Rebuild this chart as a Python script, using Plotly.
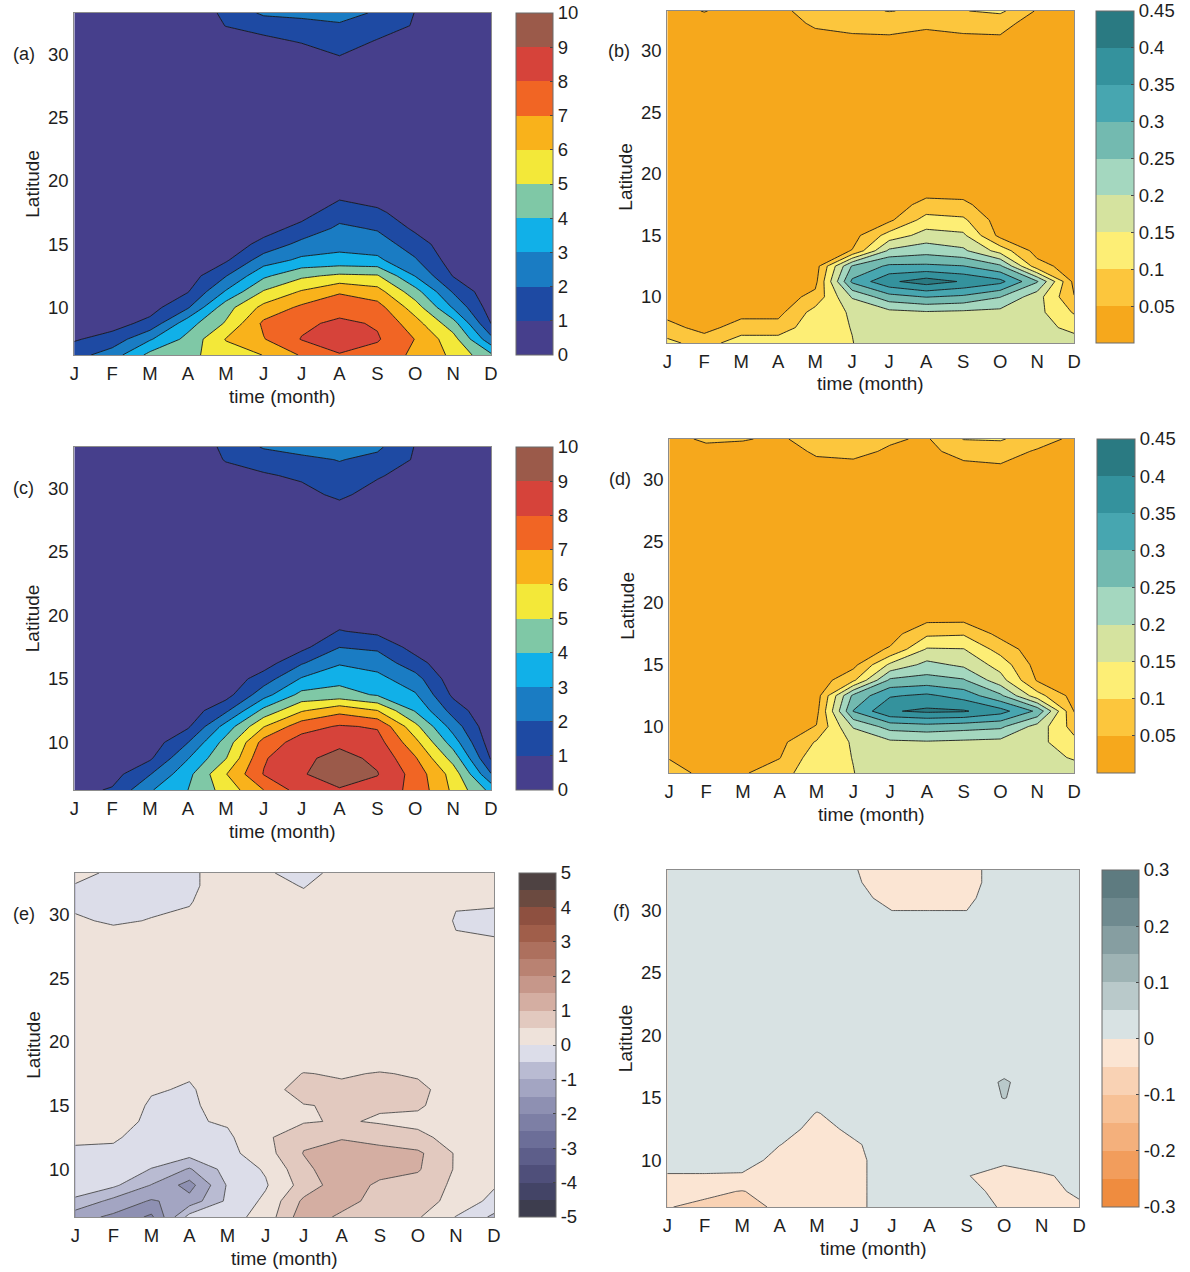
import plotly.graph_objects as go

W, H = 1190, 1272

# ---------------- data ----------------
months = [1, 2, 3, 4, 5, 6, 7, 8, 9, 10, 11, 12]
month_labels = ["J", "F", "M", "A", "M", "J", "J", "A", "S", "O", "N", "D"]
lats = [6.25, 7.5, 8.75, 10, 11.25, 12.5, 13.75, 15, 16.25, 17.5, 18.75, 20, 25, 28, 29.5, 31, 32.25, 33.25]
lat_ticks = [10, 15, 20, 25, 30]

# (a) rows = lats, cols = months
z_a = [
    [1.6, 2.5, 4.3, 4.7, 5.6, 6.02, 7.1, 7.9, 7.6, 6.8, 5.8, 4.2],
    [0.9, 1.4, 2.9, 4.3, 6.05, 6.95, 8.05, 8.8, 8.1, 6.97, 5.4, 2.3],
    [0.5, 0.6, 1.3, 3.6, 5.1, 7.2, 7.8, 8.2, 7.9, 6.4, 4.4, 0.98],
    [0.3, 0.4, 0.6, 1.9, 4.6, 6.3, 7.2, 7.6, 7.4, 5.5, 2.9, 0.5],
    [0.2, 0.2, 0.4, 0.95, 3.1, 5.1, 6.1, 6.9, 6.4, 4.4, 1.9, 0.3],
    [0.1, 0.1, 0.2, 0.5, 1.95, 3.8, 4.8, 5.2, 5.1, 2.95, 0.95, 0.15],
    [0.1, 0.1, 0.1, 0.3, 0.85, 2.5, 3.2, 3.3, 3.2, 2.1, 0.5, 0.1],
    [0.1, 0.1, 0.1, 0.2, 0.4, 1.3, 2.3, 2.7, 2.5, 1.5, 0.3, 0.1],
    [0.1, 0.1, 0.1, 0.1, 0.2, 0.6, 1.3, 2.2, 1.9, 0.8, 0.15, 0.1],
    [0.1, 0.1, 0.1, 0.1, 0.1, 0.3, 0.6, 1.55, 1.2, 0.4, 0.1, 0.1],
    [0.1, 0.1, 0.1, 0.1, 0.1, 0.15, 0.3, 0.85, 0.55, 0.2, 0.1, 0.1],
    [0.1, 0.1, 0.1, 0.1, 0.1, 0.1, 0.15, 0.4, 0.25, 0.1, 0.1, 0.1],
    [0.1, 0.1, 0.1, 0.1, 0.1, 0.1, 0.1, 0.1, 0.1, 0.1, 0.1, 0.1],
    [0.1, 0.1, 0.1, 0.1, 0.15, 0.2, 0.25, 0.35, 0.2, 0.15, 0.1, 0.1],
    [0.1, 0.1, 0.15, 0.2, 0.3, 0.4, 0.5, 0.9, 0.5, 0.3, 0.2, 0.15],
    [0.15, 0.15, 0.2, 0.3, 0.6, 0.8, 1.05, 1.3, 0.95, 0.6, 0.3, 0.2],
    [0.2, 0.2, 0.25, 0.4, 1.02, 1.3, 1.6, 1.9, 1.3, 0.95, 0.4, 0.3],
    [0.2, 0.2, 0.3, 0.5, 1.15, 2.2, 2.3, 2.3, 1.9, 0.97, 0.6, 0.4],
]

z_b = [
    [0.115, 0.075, 0.13, 0.13, 0.145, 0.149, 0.175, 0.18, 0.175, 0.175, 0.17, 0.175],
    [0.065, 0.035, 0.07, 0.07, 0.135, 0.151, 0.18, 0.185, 0.18, 0.18, 0.17, 0.135],
    [0.035, 0.025, 0.035, 0.035, 0.12, 0.156, 0.185, 0.195, 0.19, 0.185, 0.165, 0.095],
    [0.025, 0.02, 0.025, 0.025, 0.065, 0.205, 0.28, 0.302, 0.29, 0.252, 0.17, 0.052],
    [0.02, 0.02, 0.02, 0.02, 0.035, 0.31, 0.39, 0.425, 0.395, 0.365, 0.255, 0.035],
    [0.02, 0.02, 0.02, 0.02, 0.025, 0.255, 0.31, 0.31, 0.302, 0.26, 0.07, 0.025],
    [0.02, 0.02, 0.02, 0.02, 0.02, 0.052, 0.21, 0.23, 0.21, 0.13, 0.03, 0.02],
    [0.02, 0.02, 0.02, 0.02, 0.02, 0.03, 0.12, 0.17, 0.16, 0.035, 0.02, 0.02],
    [0.02, 0.02, 0.02, 0.02, 0.02, 0.02, 0.04, 0.12, 0.11, 0.025, 0.02, 0.02],
    [0.02, 0.02, 0.02, 0.02, 0.02, 0.02, 0.025, 0.065, 0.06, 0.02, 0.02, 0.02],
    [0.02, 0.02, 0.02, 0.02, 0.02, 0.02, 0.02, 0.03, 0.03, 0.02, 0.02, 0.02],
    [0.02, 0.02, 0.02, 0.02, 0.02, 0.02, 0.02, 0.02, 0.02, 0.02, 0.02, 0.02],
    [0.02, 0.02, 0.02, 0.02, 0.02, 0.02, 0.02, 0.02, 0.02, 0.02, 0.02, 0.02],
    [0.02, 0.02, 0.02, 0.02, 0.02, 0.02, 0.02, 0.02, 0.02, 0.02, 0.02, 0.02],
    [0.02, 0.02, 0.02, 0.02, 0.025, 0.03, 0.03, 0.025, 0.03, 0.03, 0.02, 0.02],
    [0.025, 0.025, 0.025, 0.03, 0.04, 0.045, 0.045, 0.035, 0.045, 0.045, 0.025, 0.02],
    [0.03, 0.03, 0.03, 0.035, 0.055, 0.06, 0.065, 0.06, 0.06, 0.065, 0.03, 0.025],
    [0.03, 0.052, 0.03, 0.035, 0.075, 0.085, 0.102, 0.09, 0.098, 0.11, 0.045, 0.03],
]

z_c = [
    [0.7, 1.1, 2.9, 4.0, 5.4, 7.0, 8.5, 8.9, 8.6, 7.7, 5.8, 3.7],
    [0.4, 0.6, 1.95, 3.7, 5.95, 8.05, 8.9, 9.6, 9.05, 7.6, 5.6, 2.05],
    [0.2, 0.3, 0.85, 2.95, 4.95, 7.9, 8.8, 9.3, 8.8, 7.1, 4.6, 0.9],
    [0.1, 0.2, 0.4, 1.98, 4.4, 7.4, 8.45, 8.8, 8.4, 6.3, 3.5, 0.45],
    [0.1, 0.1, 0.2, 0.85, 3.4, 5.95, 7.6, 8.1, 7.9, 5.3, 2.55, 0.25],
    [0.1, 0.1, 0.1, 0.4, 1.8, 4.3, 5.9, 6.7, 6.02, 3.9, 1.6, 0.1],
    [0.1, 0.1, 0.1, 0.2, 0.6, 2.6, 4.3, 4.4, 3.9, 3.1, 0.8, 0.1],
    [0.1, 0.1, 0.1, 0.1, 0.3, 1.5, 3.1, 3.7, 3.3, 2.4, 0.4, 0.1],
    [0.1, 0.1, 0.1, 0.1, 0.15, 0.5, 1.9, 2.9, 2.6, 1.4, 0.2, 0.1],
    [0.1, 0.1, 0.1, 0.1, 0.1, 0.3, 0.7, 1.98, 1.8, 0.6, 0.1, 0.1],
    [0.1, 0.1, 0.1, 0.1, 0.1, 0.15, 0.3, 1.05, 0.75, 0.3, 0.1, 0.1],
    [0.1, 0.1, 0.1, 0.1, 0.1, 0.1, 0.15, 0.5, 0.35, 0.15, 0.1, 0.1],
    [0.1, 0.1, 0.1, 0.1, 0.1, 0.1, 0.1, 0.1, 0.1, 0.1, 0.1, 0.1],
    [0.1, 0.1, 0.1, 0.1, 0.1, 0.2, 0.25, 0.5, 0.3, 0.15, 0.1, 0.1],
    [0.1, 0.1, 0.1, 0.2, 0.35, 0.5, 0.7, 1.2, 0.6, 0.35, 0.2, 0.15],
    [0.1, 0.1, 0.15, 0.3, 0.7, 0.9, 1.15, 1.6, 1.1, 0.6, 0.3, 0.2],
    [0.15, 0.15, 0.2, 0.4, 1.05, 1.4, 1.7, 2.05, 1.7, 0.9, 0.45, 0.3],
    [0.2, 0.2, 0.3, 0.5, 1.15, 2.1, 2.5, 2.6, 2.2, 0.95, 0.6, 0.4],
]

z_d = [
    [0.065, 0.04, 0.045, 0.075, 0.14, 0.149, 0.175, 0.18, 0.175, 0.175, 0.17, 0.175],
    [0.048, 0.03, 0.035, 0.048, 0.13, 0.151, 0.18, 0.185, 0.18, 0.18, 0.17, 0.145],
    [0.035, 0.025, 0.025, 0.035, 0.105, 0.156, 0.19, 0.195, 0.19, 0.185, 0.165, 0.115],
    [0.025, 0.02, 0.02, 0.025, 0.052, 0.205, 0.27, 0.28, 0.27, 0.26, 0.18, 0.08],
    [0.02, 0.02, 0.02, 0.02, 0.035, 0.302, 0.395, 0.41, 0.405, 0.37, 0.29, 0.048],
    [0.02, 0.02, 0.02, 0.02, 0.025, 0.262, 0.345, 0.36, 0.33, 0.26, 0.12, 0.03],
    [0.02, 0.02, 0.02, 0.02, 0.02, 0.09, 0.26, 0.27, 0.255, 0.17, 0.045, 0.02],
    [0.02, 0.02, 0.02, 0.02, 0.02, 0.035, 0.16, 0.215, 0.19, 0.13, 0.03, 0.02],
    [0.02, 0.02, 0.02, 0.02, 0.02, 0.025, 0.055, 0.155, 0.152, 0.08, 0.02, 0.02],
    [0.02, 0.02, 0.02, 0.02, 0.02, 0.02, 0.03, 0.09, 0.095, 0.035, 0.02, 0.02],
    [0.02, 0.02, 0.02, 0.02, 0.02, 0.02, 0.02, 0.035, 0.035, 0.02, 0.02, 0.02],
    [0.02, 0.02, 0.02, 0.02, 0.02, 0.02, 0.02, 0.02, 0.02, 0.02, 0.02, 0.02],
    [0.02, 0.02, 0.02, 0.02, 0.02, 0.02, 0.02, 0.02, 0.02, 0.02, 0.02, 0.02],
    [0.02, 0.02, 0.02, 0.02, 0.02, 0.02, 0.02, 0.02, 0.02, 0.02, 0.02, 0.02],
    [0.02, 0.025, 0.025, 0.02, 0.025, 0.03, 0.025, 0.02, 0.03, 0.03, 0.025, 0.02],
    [0.025, 0.03, 0.03, 0.03, 0.04, 0.04, 0.035, 0.03, 0.04, 0.045, 0.035, 0.025],
    [0.03, 0.04, 0.04, 0.035, 0.055, 0.06, 0.045, 0.04, 0.065, 0.07, 0.045, 0.03],
    [0.04, 0.055, 0.052, 0.045, 0.065, 0.075, 0.055, 0.045, 0.102, 0.105, 0.07, 0.04],
]

z_e = [
    [-1.3, -1.6, -2.1, -0.3, -0.2, 0.2, 1.3, 0.9, 0.6, 0.55, -0.02, -0.6],
    [-0.6, -1.15, -1.55, -1.3, -0.4, 0.1, 1.1, 1.2, 0.8, 0.7, 0.35, -0.15],
    [-0.2, -0.4, -1.02, -1.7, -0.45, -0.05, 0.7, 1.3, 0.9, 0.8, 0.4, 0.05],
    [-0.1, -0.15, -0.52, -1.05, -0.3, 0.05, 0.85, 1.4, 1.2, 1.05, 0.45, 0.1],
    [-0.05, -0.05, -0.2, -0.3, -0.15, 0.3, 1.02, 1.3, 1.2, 1.1, 0.45, 0.15],
    [0.05, 0.03, -0.1, -0.15, -0.08, 0.4, 0.9, 0.95, 0.8, 0.6, 0.35, 0.15],
    [0.1, 0.1, -0.05, -0.05, 0.05, 0.3, 0.45, 0.55, 0.45, 0.4, 0.3, 0.15],
    [0.15, 0.15, -0.03, -0.04, 0.1, 0.25, 0.48, 0.55, 0.55, 0.55, 0.3, 0.15],
    [0.15, 0.15, 0.02, -0.02, 0.1, 0.3, 0.7, 0.6, 0.65, 0.6, 0.3, 0.15],
    [0.15, 0.15, 0.1, 0.02, 0.1, 0.2, 0.52, 0.45, 0.53, 0.45, 0.25, 0.15],
    [0.15, 0.15, 0.12, 0.1, 0.1, 0.15, 0.2, 0.2, 0.25, 0.2, 0.15, 0.15],
    [0.15, 0.15, 0.15, 0.12, 0.12, 0.12, 0.15, 0.15, 0.15, 0.15, 0.15, 0.15],
    [0.1, 0.1, 0.1, 0.1, 0.1, 0.1, 0.1, 0.1, 0.1, 0.1, 0.1, 0.1],
    [0.05, 0.1, 0.1, 0.05, 0.1, 0.1, 0.1, 0.1, 0.1, 0.1, 0.01, 0.02],
    [0.03, -0.03, 0.01, 0.03, 0.05, 0.1, 0.05, 0.1, 0.1, 0.1, -0.01, -0.1],
    [-0.05, -0.08, -0.05, -0.01, 0.1, 0.1, 0.05, 0.1, 0.1, 0.1, 0.01, 0.05],
    [-0.01, -0.05, -0.05, -0.03, 0.08, 0.06, -0.01, 0.1, 0.1, 0.08, 0.05, 0.08],
    [0.05, -0.03, -0.05, -0.03, 0.08, 0.05, -0.15, 0.15, 0.1, 0.05, 0.05, 0.08],
]

z_f = [
    [-0.048, -0.06, -0.08, -0.035, -0.02, -0.01, 0.02, 0.02, 0.02, -0.005, -0.02, -0.01],
    [-0.03, -0.04, -0.052, -0.03, -0.02, -0.01, 0.02, 0.02, 0.01, -0.01, -0.02, 0.01],
    [-0.005, -0.005, -0.005, -0.02, -0.02, -0.01, 0.02, 0.02, 0.001, -0.01, -0.005, 0.01],
    [0.03, 0.03, 0.02, -0.015, -0.02, -0.01, 0.02, 0.02, 0.02, 0.005, 0.02, 0.02],
    [0.03, 0.03, 0.03, 0.001, -0.02, -0.005, 0.02, 0.02, 0.02, 0.02, 0.02, 0.02],
    [0.03, 0.03, 0.03, 0.02, -0.015, 0.01, 0.02, 0.02, 0.02, 0.02, 0.02, 0.02],
    [0.03, 0.03, 0.03, 0.03, -0.002, 0.02, 0.02, 0.02, 0.02, 0.02, 0.02, 0.02],
    [0.03, 0.03, 0.03, 0.03, 0.02, 0.02, 0.02, 0.02, 0.02, 0.052, 0.02, 0.02],
    [0.03, 0.03, 0.03, 0.03, 0.02, 0.02, 0.02, 0.02, 0.02, 0.056, 0.02, 0.02],
    [0.03, 0.03, 0.03, 0.03, 0.02, 0.02, 0.02, 0.02, 0.02, 0.03, 0.02, 0.02],
    [0.03, 0.03, 0.03, 0.03, 0.02, 0.02, 0.02, 0.02, 0.02, 0.02, 0.02, 0.02],
    [0.02, 0.02, 0.02, 0.02, 0.02, 0.02, 0.02, 0.02, 0.02, 0.02, 0.02, 0.02],
    [0.02, 0.02, 0.02, 0.02, 0.02, 0.02, 0.02, 0.02, 0.02, 0.02, 0.02, 0.02],
    [0.02, 0.02, 0.02, 0.02, 0.02, 0.02, 0.02, 0.02, 0.02, 0.02, 0.02, 0.02],
    [0.02, 0.02, 0.02, 0.02, 0.02, 0.02, 0.005, 0.005, 0.005, 0.02, 0.02, 0.02],
    [0.02, 0.02, 0.02, 0.02, 0.02, 0.01, -0.01, -0.01, -0.01, 0.03, 0.02, 0.02],
    [0.02, 0.02, 0.02, 0.02, 0.02, 0.005, -0.02, -0.02, -0.02, 0.03, 0.02, 0.02],
    [0.02, 0.02, 0.02, 0.02, 0.02, 0.002, -0.02, -0.02, -0.02, 0.03, 0.02, 0.02],
]

# contour levels (start, end, step) and colorbar ranges
rain_levels = (1, 9, 1)
rain_range = (0, 10)
ratio_levels = (0.05, 0.40, 0.05)
ratio_range = (0, 0.45)
drain_levels = (-4.5, 4.5, 0.5)
drain_range = (-5, 5)
dratio_levels = (-0.25, 0.25, 0.05)
dratio_range = (-0.3, 0.3)

rain_colors = ["#463f8c", "#1e4aa3", "#1a7cc3", "#11b0e8", "#7fc8a6",
               "#f3e839", "#f9b21b", "#f16524", "#d6433a", "#9b5a4a"]
ratio_colors = ["#f6a81c", "#fcc63d", "#fdee75", "#d5e39f", "#a4d7bf",
                "#73bab0", "#47a6b0", "#34929d", "#2a7a82"]
drain_colors = ["#3d3d4e", "#434466", "#4f4f7a", "#5d5e8a", "#6c6e98",
                "#7d7fa5", "#8e90b2", "#a3a5c2", "#b9bbd2", "#dcdde9",
                "#eee2da", "#e2c9bf", "#d4aea2", "#c6978a", "#b98272",
                "#ad705e", "#a05e4a", "#8e5040", "#6b4a40", "#4e4242"]
dratio_colors = ["#ef8c3f", "#f29d5c", "#f4b07c", "#f7c196", "#f9d2b4", "#fbe5d3",
                 "#d8e2e3", "#b9c9ca", "#9eb3b4", "#869ea1", "#6f8a8f", "#5e7b80"]

rain_ticks = [0, 1, 2, 3, 4, 5, 6, 7, 8, 9, 10]
rain_ticktext = ["0", "1", "2", "3", "4", "5", "6", "7", "8", "9", "10"]
ratio_ticks = [0.05, 0.1, 0.15, 0.2, 0.25, 0.3, 0.35, 0.4, 0.45]
ratio_ticktext = ["0.05", "0.1", "0.15", "0.2", "0.25", "0.3", "0.35", "0.4", "0.45"]
drain_ticks = [-5, -4, -3, -2, -1, 0, 1, 2, 3, 4, 5]
drain_ticktext = ["-5", "-4", "-3", "-2", "-1", "0", "1", "2", "3", "4", "5"]
dratio_ticks = [-0.3, -0.2, -0.1, 0, 0.1, 0.2, 0.3]
dratio_ticktext = ["-0.3", "-0.2", "-0.1", "0", "0.1", "0.2", "0.3"]

# ---------------- layout geometry (pixels) ----------------
FONT = "Liberation Sans, Arial, Helvetica, sans-serif"
TXT = "#1e1e1e"
TICK_SIZE = 18.5
TITLE_SIZE = 19
TAG_SIZE = 18

panels = [
    dict(tag="(a)", z=z_a, lev=rain_levels, rng=rain_range, col=rain_colors,
         tv=rain_ticks, tt=rain_ticktext, lc="#1a1a1a",
         g=dict(x0=70, x1=491, y0=13, y1=355, cb0=516, cb1=553, lab=19, ttl=28)),
    dict(tag="(b)", z=z_b, lev=ratio_levels, rng=ratio_range, col=ratio_colors,
         tv=ratio_ticks, tt=ratio_ticktext, lc="#1a1a1a",
         g=dict(x0=669, x1=1080, y0=11, y1=343, cb0=1102, cb1=1140, lab=620, ttl=627)),
    dict(tag="(c)", z=z_c, lev=rain_levels, rng=rain_range, col=rain_colors,
         tv=rain_ticks, tt=rain_ticktext, lc="#1a1a1a",
         g=dict(x0=70, x1=491, y0=447, y1=790, cb0=516, cb1=553, lab=19, ttl=28)),
    dict(tag="(d)", z=z_d, lev=ratio_levels, rng=ratio_range, col=ratio_colors,
         tv=ratio_ticks, tt=ratio_ticktext, lc="#1a1a1a",
         g=dict(x0=671, x1=1080, y0=439, y1=773, cb0=1103, cb1=1141, lab=621, ttl=629)),
    dict(tag="(e)", z=z_e, lev=drain_levels, rng=drain_range, col=drain_colors,
         tv=drain_ticks, tt=drain_ticktext, lc="#4a4a4a",
         g=dict(x0=71, x1=494, y0=873, y1=1217, cb0=519, cb1=556, lab=19, ttl=28)),
    dict(tag="(f)", z=z_f, lev=dratio_levels, rng=dratio_range, col=dratio_colors,
         tv=dratio_ticks, tt=dratio_ticktext, lc="#4a4a4a",
         g=dict(x0=669, x1=1085, y0=870, y1=1207, cb0=1108, cb1=1145, lab=623, ttl=627)),
]

fig = go.Figure()
annotations = []
layout_axes = {}

for i, p in enumerate(panels):
    sfx = "" if i == 0 else str(i + 1)
    g = p["g"]
    start, end, step = p["lev"]
    nlev = int(round((end - start) / step)) + 1
    cscale = [[k / nlev, c] for k, c in enumerate(p["col"])]
    contours_fill = dict(start=start, end=end + step * 0.01, size=step,
                         coloring="fill", showlines=False)
    contours_line = dict(start=start, end=end + step * 0.01, size=step,
                         coloring="none", showlines=True)

    fig.add_trace(go.Contour(
        x=months, y=lats, z=p["z"], xaxis="x" + sfx, yaxis="y" + sfx,
        autocontour=False, contours=contours_fill,
        colorscale=cscale, zauto=False, zmin=p["rng"][0], zmax=p["rng"][1],
        line=dict(width=0, smoothing=0),
        colorbar=dict(
            x=g["cb0"] / W, xanchor="left", xpad=0,
            y=1 - g["y1"] / H, yanchor="bottom", ypad=0,
            len=(g["y1"] - g["y0"]) / H, lenmode="fraction",
            thickness=g["cb1"] - g["cb0"], thicknessmode="pixels",
            outlinewidth=1, outlinecolor="#6a6a6a",
            tickvals=p["tv"], ticktext=p["tt"],
            ticks="inside", ticklen=3, tickcolor="#444", tickwidth=1,
            tickfont=dict(family=FONT, size=TICK_SIZE, color=TXT),
        ),
        hoverinfo="skip",
    ))
    fig.add_trace(go.Contour(
        x=months, y=lats, z=p["z"], xaxis="x" + sfx, yaxis="y" + sfx,
        autocontour=False, contours=contours_line,
        line=dict(color=p["lc"], width=0.9, smoothing=0),
        showscale=False, hoverinfo="skip",
    ))

    layout_axes["xaxis" + sfx] = dict(
        domain=[g["x0"] / W, g["x1"] / W], range=[1, 12], anchor="y" + sfx,
        tickvals=months, ticktext=month_labels, ticks="", showgrid=False, zeroline=False,
        showline=True, mirror=True, linecolor="#8c8c8c", linewidth=1,
        tickfont=dict(family=FONT, size=TICK_SIZE, color=TXT), ticklabelstandoff=2,
    )
    layout_axes["yaxis" + sfx] = dict(
        domain=[1 - g["y1"] / H, 1 - g["y0"] / H], range=[6.25, 33.25], anchor="x" + sfx,
        tickvals=lat_ticks, ticks="", showgrid=False, zeroline=False,
        showline=True, mirror=True, linecolor="#8c8c8c", linewidth=1,
        tickfont=dict(family=FONT, size=TICK_SIZE, color=TXT), ticklabelstandoff=1,
    )

    annotations.append(dict(text=p["tag"], x=g["lab"] / W, xref="paper", y=30, yref="y" + sfx,
                            xanchor="center", yanchor="middle", showarrow=False,
                            font=dict(family=FONT, size=TAG_SIZE, color=TXT)))
    annotations.append(dict(text="Latitude", x=g["ttl"] / W, xref="paper",
                            y=1 - (g["y0"] + g["y1"]) / 2 / H, yref="paper", textangle=-90,
                            xanchor="center", yanchor="middle", showarrow=False,
                            font=dict(family=FONT, size=TITLE_SIZE, color=TXT)))
    annotations.append(dict(text="time (month)", x=(g["x0"] + g["x1"]) / 2 / W, xref="paper",
                            y=1 - (g["y1"] + 41) / H, yref="paper",
                            xanchor="center", yanchor="middle", showarrow=False,
                            font=dict(family=FONT, size=TITLE_SIZE, color=TXT)))

fig.update_layout(
    width=W, height=H, margin=dict(l=0, r=0, t=0, b=0),
    paper_bgcolor="white", plot_bgcolor="white",
    showlegend=False, annotations=annotations,
    font=dict(family=FONT, color=TXT),
    **layout_axes,
)

fig.write_html("out.html", config={"displayModeBar": False},
               post_script="document.body.style.margin='0px';document.body.style.overflow='hidden';")
